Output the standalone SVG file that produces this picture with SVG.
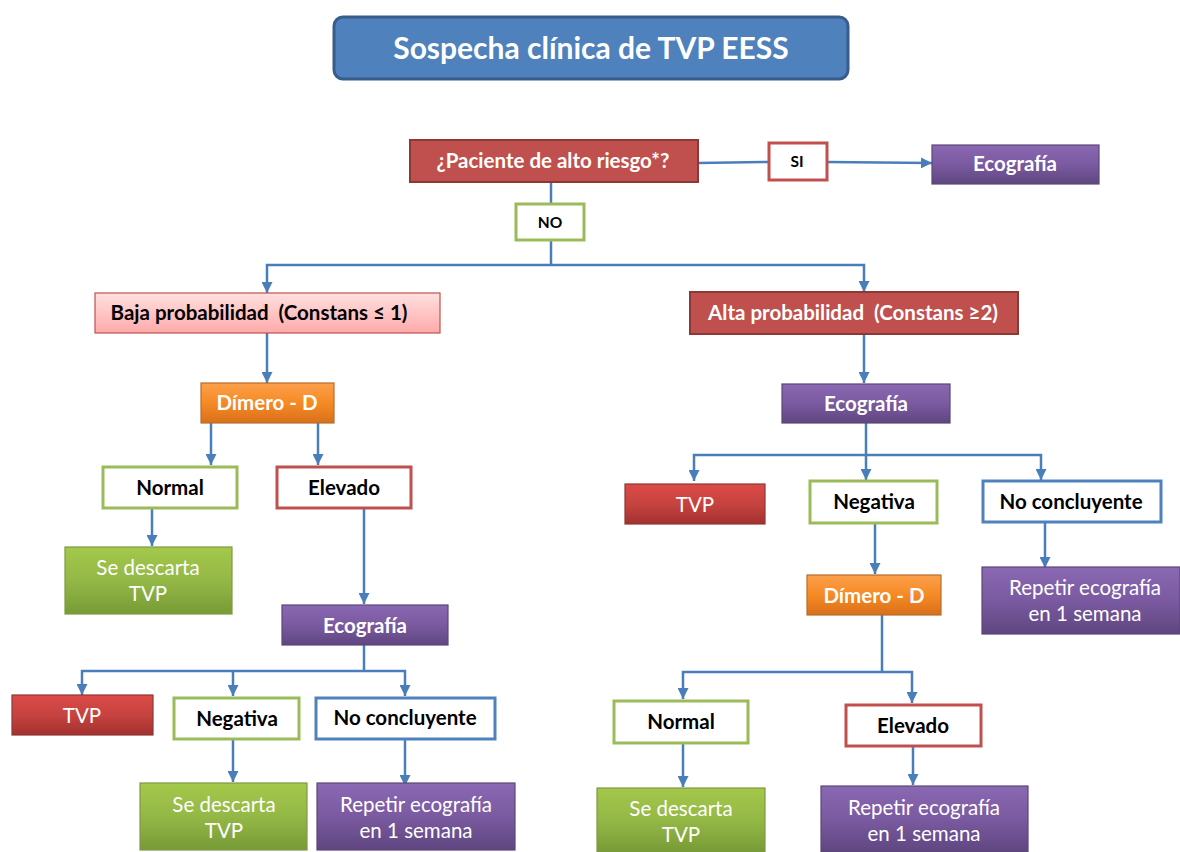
<svg xmlns="http://www.w3.org/2000/svg" width="1180" height="852" viewBox="0 0 1180 852">
<defs>
<style>
text{font-family:Lato,"Open Sans","Liberation Sans",sans-serif;text-anchor:middle}
.b{font-weight:bold;font-size:20.5px}
.r{font-size:20.5px}
.s{font-weight:bold;font-size:15.5px}
.w{fill:#fff}
.k{fill:#000}
.c{stroke:#4a7ebb;stroke-width:2.5;fill:none}
.red{fill:url(#gRed);stroke:#8c3836;stroke-width:1.2}
.pur{fill:url(#gPur);stroke:#5c4776;stroke-width:1.2}
.ora{fill:url(#gOra);stroke:#b66d31;stroke-width:1.2}
.grn{fill:url(#gGrn);stroke:#7d9a45;stroke-width:1.2}
.og{fill:#fff;stroke:#9bbb59;stroke-width:3}
.or{fill:#fff;stroke:#c0504d;stroke-width:3}
.ob{fill:#fff;stroke:#4f81bd;stroke-width:3}
</style>
<linearGradient id="gRed" x1="0" y1="0" x2="0" y2="1"><stop offset="0" stop-color="#dc4a47"/><stop offset="0.5" stop-color="#c64340"/><stop offset="1" stop-color="#a3312f"/></linearGradient>
<linearGradient id="gPur" x1="0" y1="0" x2="0" y2="1"><stop offset="0" stop-color="#8a68b3"/><stop offset="0.5" stop-color="#7a5aa0"/><stop offset="1" stop-color="#5f4680"/></linearGradient>
<linearGradient id="gOra" x1="0" y1="0" x2="0" y2="1"><stop offset="0" stop-color="#fca04c"/><stop offset="0.5" stop-color="#f68a24"/><stop offset="1" stop-color="#d8701a"/></linearGradient>
<linearGradient id="gGrn" x1="0" y1="0" x2="0" y2="1"><stop offset="0" stop-color="#a3c84a"/><stop offset="0.5" stop-color="#94b846"/><stop offset="1" stop-color="#779b36"/></linearGradient>
<linearGradient id="gPink" x1="0" y1="0" x2="0" y2="1"><stop offset="0" stop-color="#ffe0e0"/><stop offset="1" stop-color="#ffaaaa"/></linearGradient>
<marker id="ar" viewBox="0 0 10 10" refX="10" refY="5" markerWidth="11" markerHeight="11" markerUnits="userSpaceOnUse" orient="auto"><path d="M0,0 L10,5 L0,10 z" fill="#4a7ebb"/></marker>
</defs>
<rect width="1180" height="852" fill="#fff"/>

<g id="connectors">
<path class="c" d="M698,163 L768,162"/>
<path class="c" d="M827,162 L932,163" marker-end="url(#ar)"/>
<path class="c" d="M551,182 L551,203"/>
<path class="c" d="M551,240 L551,265"/>
<path class="c" d="M551,265 L267,265 L267,293" marker-end="url(#ar)"/>
<path class="c" d="M551,265 L864,265 L864,292" marker-end="url(#ar)"/>
<path class="c" d="M267,333 L267,383" marker-end="url(#ar)"/>
<path class="c" d="M211,423 L211,465" marker-end="url(#ar)"/>
<path class="c" d="M318,423 L318,465" marker-end="url(#ar)"/>
<path class="c" d="M152,508 L152,546" marker-end="url(#ar)"/>
<path class="c" d="M364,508 L364,604" marker-end="url(#ar)"/>
<path class="c" d="M364,645 L364,671"/>
<path class="c" d="M364,671 L82,671 L82,695" marker-end="url(#ar)"/>
<path class="c" d="M233,671 L233,696" marker-end="url(#ar)"/>
<path class="c" d="M364,671 L405,671 L405,696" marker-end="url(#ar)"/>
<path class="c" d="M233,739 L233,782" marker-end="url(#ar)"/>
<path class="c" d="M405,739 L405,786" marker-end="url(#ar)"/>
<path class="c" d="M864,334 L864,383" marker-end="url(#ar)"/>
<path class="c" d="M866,423 L866,455"/>
<path class="c" d="M866,455 L694,455 L694,481" marker-end="url(#ar)"/>
<path class="c" d="M866,455 L866,480" marker-end="url(#ar)"/>
<path class="c" d="M866,455 L1041,455 L1041,480" marker-end="url(#ar)"/>
<path class="c" d="M875,523 L875,574" marker-end="url(#ar)"/>
<path class="c" d="M1045,522 L1045,568" marker-end="url(#ar)"/>
<path class="c" d="M882,615 L882,672"/>
<path class="c" d="M882,672 L683,672 L683,699" marker-end="url(#ar)"/>
<path class="c" d="M882,672 L912,672 L912,703" marker-end="url(#ar)"/>
<path class="c" d="M683,743 L683,787" marker-end="url(#ar)"/>
<path class="c" d="M913,746 L913,785" marker-end="url(#ar)"/>
</g>

<g id="title">
<rect x="334" y="17" width="514" height="62" rx="9" fill="#4f81bd" stroke="#385d8a" stroke-width="3"/>
<text x="591" y="59" class="w" font-weight="bold" font-size="30">Sospecha clínica de TVP EESS</text>
</g>

<g id="alto-riesgo">
<rect x="410" y="140" width="288" height="42" fill="#c0504d" stroke="#8c3836" stroke-width="2"/>
<text x="553" y="168" class="b w">¿Paciente de alto riesgo*?</text>
</g>

<g id="si">
<rect x="769" y="143" width="58" height="37" class="or"/>
<text x="797" y="167" class="s k">SI</text>
</g>

<g id="eco-top">
<rect x="932" y="145" width="167" height="39" class="pur"/>
<text x="1015" y="171" class="b w">Ecografía</text>
</g>

<g id="no">
<rect x="516" y="204" width="68" height="36" class="og"/>
<text x="550" y="228" class="s k">NO</text>
</g>

<g id="baja">
<rect x="95" y="293" width="345" height="40" fill="url(#gPink)" stroke="#c0504d" stroke-width="1.2"/>
<text x="259" y="320" class="b k" xml:space="preserve">Baja probabilidad  (Constans ≤ 1)</text>
</g>

<g id="alta">
<rect x="690" y="292" width="328" height="42" fill="#c0504d" stroke="#8c3836" stroke-width="2"/>
<text x="853" y="320" class="b w" xml:space="preserve">Alta probabilidad  (Constans ≥2)</text>
</g>

<g id="dimero-l">
<rect x="201" y="383" width="133" height="40" class="ora"/>
<text x="267" y="410" class="b w">Dímero - D</text>
</g>

<g id="normal-l">
<rect x="103" y="467" width="134" height="41" class="og"/>
<text x="170" y="495" class="b k">Normal</text>
</g>

<g id="elevado-l">
<rect x="277" y="467" width="134" height="41" class="or"/>
<text x="344" y="495" class="b k">Elevado</text>
</g>

<g id="descarta-l1">
<rect x="65" y="547" width="167" height="67" class="grn"/>
<text x="148" y="575" class="r w">Se descarta</text>
<text x="148" y="601" class="r w">TVP</text>
</g>

<g id="eco-l">
<rect x="282" y="605" width="166" height="40" class="pur"/>
<text x="365" y="633" class="b w">Ecografía</text>
</g>

<g id="tvp-l">
<rect x="12" y="695" width="141" height="40" class="red"/>
<text x="82" y="723" class="r w">TVP</text>
</g>

<g id="negativa-l">
<rect x="174" y="698" width="125" height="41" class="og"/>
<text x="237" y="726" class="b k">Negativa</text>
</g>

<g id="nocon-l">
<rect x="316" y="698" width="179" height="41" class="ob"/>
<text x="405" y="725" class="b k">No concluyente</text>
</g>

<g id="descarta-l2">
<rect x="140" y="783" width="167" height="67" class="grn"/>
<text x="224" y="812" class="r w">Se descarta</text>
<text x="224" y="838" class="r w">TVP</text>
</g>

<g id="repetir-l">
<rect x="317" y="783" width="198" height="67" class="pur"/>
<text x="416" y="812" class="r w">Repetir ecografía</text>
<text x="416" y="838" class="r w">en 1 semana</text>
</g>

<g id="eco-r">
<rect x="782" y="384" width="168" height="39" class="pur"/>
<text x="866" y="411" class="b w">Ecografía</text>
</g>

<g id="tvp-r">
<rect x="625" y="484" width="140" height="40" class="red"/>
<text x="695" y="512" class="r w">TVP</text>
</g>

<g id="negativa-r">
<rect x="810" y="481" width="127" height="42" class="og"/>
<text x="874" y="509" class="b k">Negativa</text>
</g>

<g id="nocon-r">
<rect x="983" y="481" width="178" height="41" class="ob"/>
<text x="1071" y="509" class="b k">No concluyente</text>
</g>

<g id="dimero-r">
<rect x="807" y="575" width="134" height="40" class="ora"/>
<text x="874" y="603" class="b w">Dímero - D</text>
</g>

<g id="repetir-r1">
<rect x="982" y="567" width="198" height="67" class="pur"/>
<text x="1085" y="595" class="r w">Repetir ecografía</text>
<text x="1085" y="621" class="r w">en 1 semana</text>
</g>

<g id="normal-r">
<rect x="614" y="701" width="134" height="42" class="og"/>
<text x="681" y="729" class="b k">Normal</text>
</g>

<g id="elevado-r">
<rect x="846" y="705" width="135" height="41" class="or"/>
<text x="913" y="733" class="b k">Elevado</text>
</g>

<g id="descarta-r">
<rect x="597" y="788" width="168" height="64" class="grn"/>
<text x="681" y="816" class="r w">Se descarta</text>
<text x="681" y="842" class="r w">TVP</text>
</g>

<g id="repetir-r2">
<rect x="821" y="786" width="207" height="66" class="pur"/>
<text x="924" y="815" class="r w">Repetir ecografía</text>
<text x="924" y="841" class="r w">en 1 semana</text>
</g>
</svg>
